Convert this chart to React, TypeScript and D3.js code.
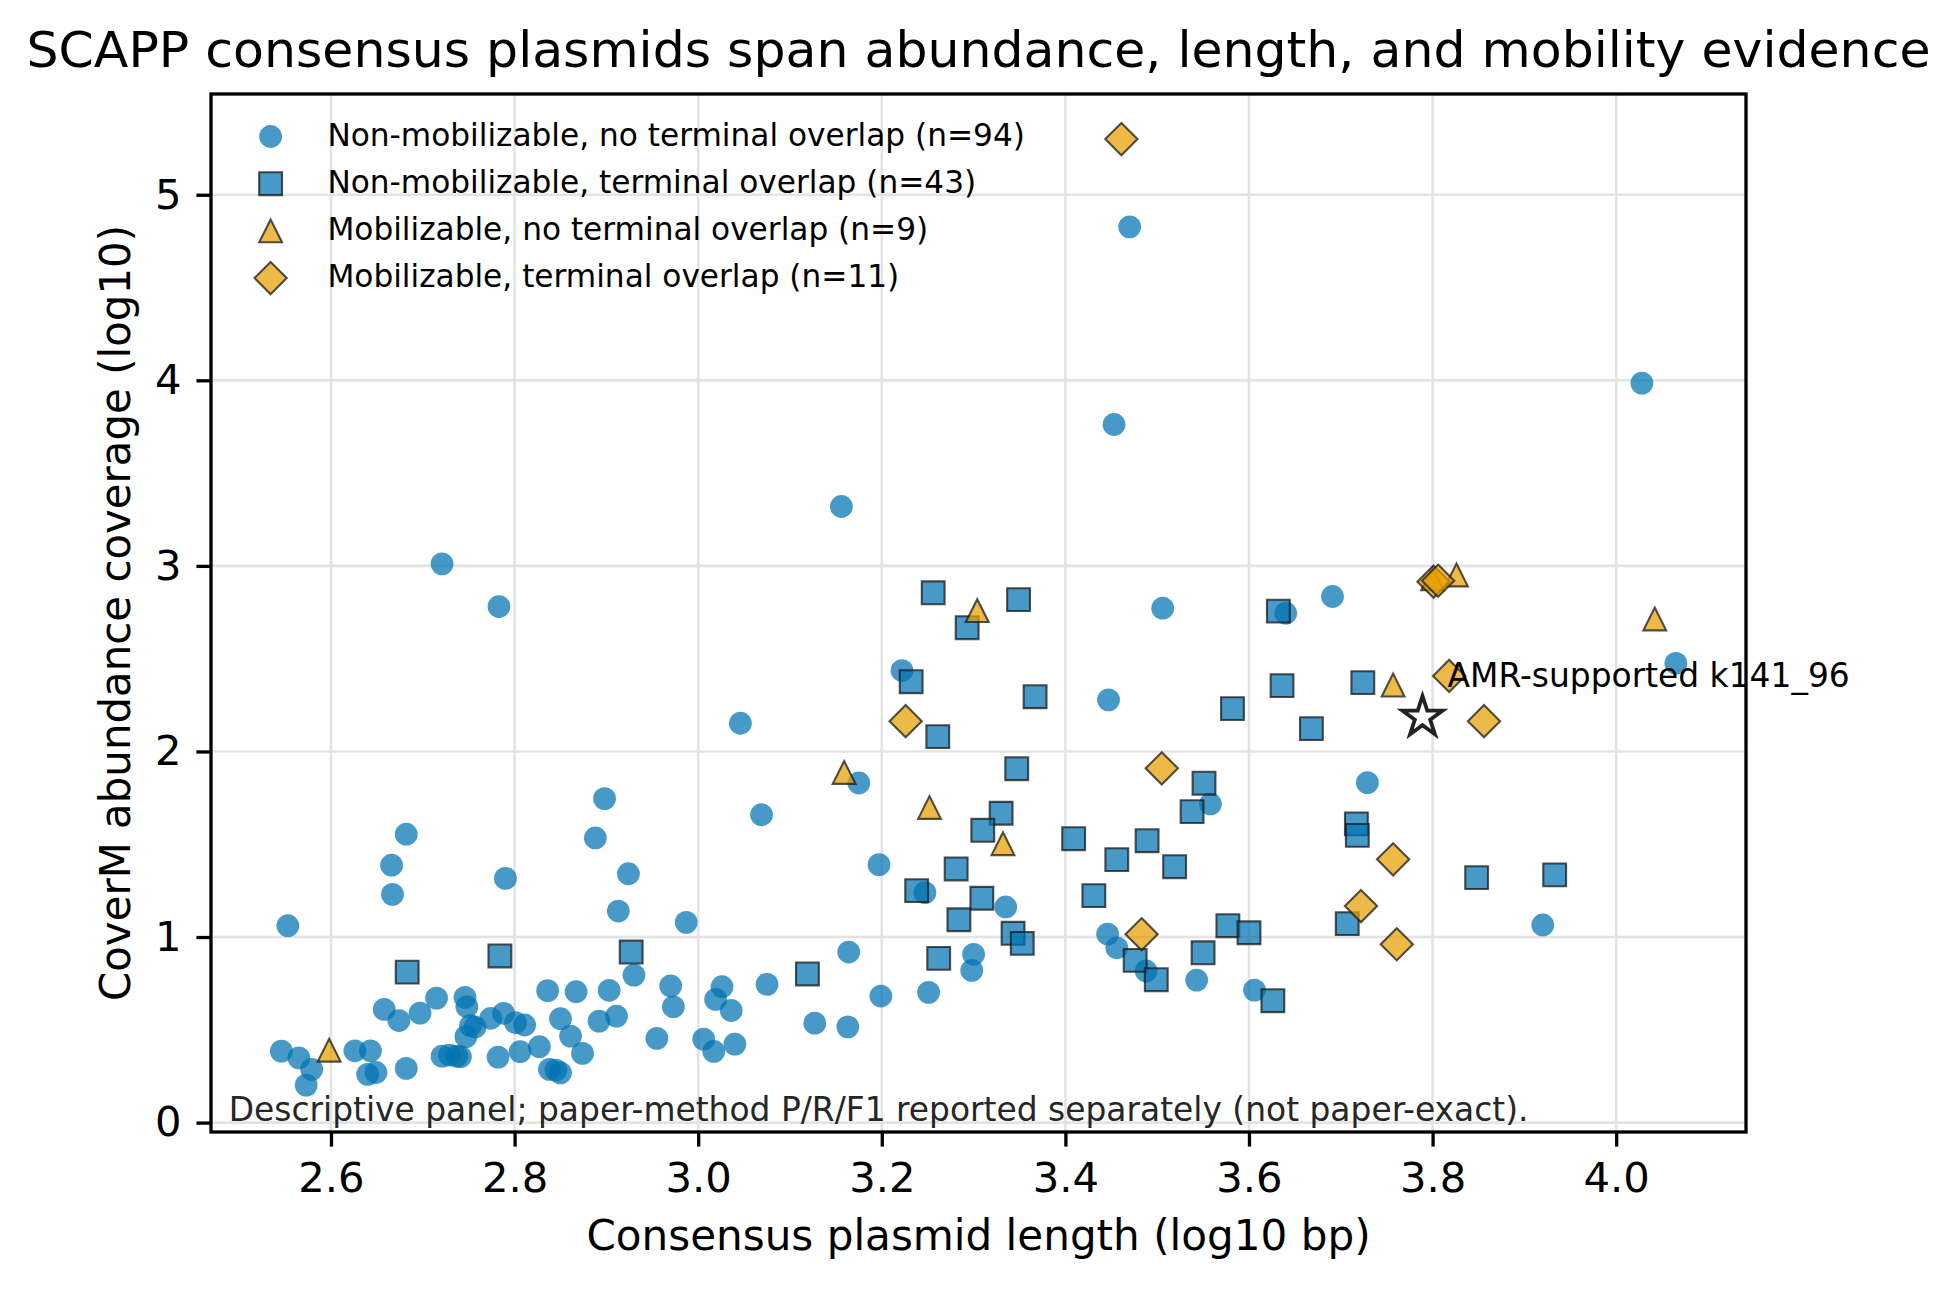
import { useEffect, useRef } from "react";
import * as d3 from "d3";

const width = 1957;
const height = 1292;
const plot = { left: 211, right: 1746, top: 94, bottom: 1132 };
const font = "'DejaVu Sans', sans-serif";

// axis ranges and ticks
const xDomain = [2.4693, 4.1414];
const yDomain = [-0.0507, 5.543];
const xTicks = [2.6, 2.8, 3.0, 3.2, 3.4, 3.6, 3.8, 4.0];
const yTicks = [0, 1, 2, 3, 4, 5];

// [log10 length, log10 coverage]
const nonMobNoOverlap = [
  [2.546, 0.385], [2.565, 0.349], [2.579, 0.287], [2.573, 0.202], [2.626, 0.387],
  [2.643, 0.387], [2.64, 0.26], [2.649, 0.27], [2.658, 0.61], [2.674, 0.55],
  [2.682, 0.292], [2.697, 0.59], [2.715, 0.671], [2.721, 0.358], [2.729, 0.364],
  [2.741, 0.355], [2.746, 0.675], [2.748, 0.624], [2.752, 0.522], [2.747, 0.463],
  [2.774, 0.562], [2.788, 0.589], [2.782, 0.353], [2.801, 0.538], [2.811, 0.526],
  [2.806, 0.382], [2.827, 0.409], [2.836, 0.711], [2.85, 0.56], [2.861, 0.466],
  [2.867, 0.705], [2.838, 0.287], [2.85, 0.268], [2.874, 0.373], [2.892, 0.547],
  [2.903, 0.713], [2.911, 0.574], [2.93, 0.795], [2.955, 0.454], [2.97, 0.737],
  [2.973, 0.624], [3.006, 0.45], [3.017, 0.384], [3.026, 0.732], [3.019, 0.664],
  [3.036, 0.604], [3.04, 0.423], [2.737, 0.358], [2.757, 0.515], [2.845, 0.283],
  [2.553, 1.061], [2.682, 1.554], [2.666, 1.387], [2.667, 1.23], [2.898, 1.746],
  [2.888, 1.534], [2.79, 1.316], [2.924, 1.341], [2.913, 1.14], [2.987, 1.079],
  [3.069, 1.659], [3.175, 1.83], [3.197, 1.39], [2.721, 3.011], [2.783, 2.781],
  [3.156, 3.32], [3.046, 2.152], [3.222, 2.436],
  [3.075, 0.745], [3.164, 0.919], [3.199, 0.682], [3.127, 0.536], [3.163, 0.516],
  [3.251, 0.702], [3.3, 0.907], [3.298, 0.82], [3.247, 1.239], [3.335, 1.162],
  [3.446, 1.016], [3.456, 0.942], [3.488, 0.817], [3.543, 0.768], [3.606, 0.714],
  [3.506, 2.772], [3.64, 2.745], [3.691, 2.835], [3.447, 2.278], [3.729, 1.832],
  [3.558, 1.717], [3.47, 4.827], [3.453, 3.762], [4.028, 3.985], [4.065, 2.475],
  [3.92, 1.065],
];

const nonMobOverlap = [
  [2.683, 0.811], [2.784, 0.898], [2.927, 0.919], [3.119, 0.801], [3.256, 2.855],
  [3.293, 2.667], [3.349, 2.818], [3.232, 2.376], [3.367, 2.295], [3.261, 2.08],
  [3.347, 1.907], [3.632, 2.756], [3.636, 2.355], [3.724, 2.371], [3.582, 2.231],
  [3.668, 2.123], [3.33, 1.667], [3.31, 1.575], [3.281, 1.367], [3.238, 1.25],
  [3.309, 1.209], [3.284, 1.093], [3.343, 1.02], [3.353, 0.966], [3.262, 0.885],
  [3.409, 1.53], [3.456, 1.417], [3.489, 1.519], [3.519, 1.379], [3.431, 1.223],
  [3.551, 1.829], [3.538, 1.676], [3.577, 1.061], [3.6, 1.023], [3.717, 1.61],
  [3.718, 1.548], [3.707, 1.072], [3.55, 0.915], [3.476, 0.874], [3.499, 0.77],
  [3.626, 0.657], [3.848, 1.32], [3.933, 1.335],
];

const mobNoOverlap = [
  [2.598, 0.39], [3.304, 2.759], [3.159, 1.887], [3.252, 1.698], [3.332, 1.503],
  [3.757, 2.358], [3.826, 2.951], [4.042, 2.714], [3.8, 2.93],
];

const mobOverlap = [
  [3.461, 5.3], [3.226, 2.163], [3.505, 1.909], [3.483, 1.015], [3.722, 1.167],
  [3.757, 1.419], [3.761, 0.961], [3.801, 2.915], [3.818, 2.407], [3.856, 2.163],
  [3.806, 2.92],
];

const amrPoint = [3.789, 2.185];
const amrLabel = "AMR-supported k141_96";

const legendLabels = [
  "Non-mobilizable, no terminal overlap (n=94)",
  "Non-mobilizable, terminal overlap (n=43)",
  "Mobilizable, no terminal overlap (n=9)",
  "Mobilizable, terminal overlap (n=11)",
];

const blue = "#0072B2";
const orange = "#E69F00";
const markerSize = 520;

const triangleUp = {
  draw(ctx: any, size: number) {
    const h = Math.sqrt(size) / 2;
    ctx.moveTo(0, -h);
    ctx.lineTo(h, h);
    ctx.lineTo(-h, h);
    ctx.closePath();
  },
};

const diamond = {
  draw(ctx: any, size: number) {
    const r = Math.sqrt(size) / Math.SQRT2;
    ctx.moveTo(0, -r);
    ctx.lineTo(r, 0);
    ctx.lineTo(0, r);
    ctx.lineTo(-r, 0);
    ctx.closePath();
  },
};

const groups = [
  { data: nonMobNoOverlap, type: d3.symbolCircle, size: 408, color: blue, edge: false },
  { data: nonMobOverlap, type: d3.symbolSquare, size: markerSize, color: blue, edge: true },
  { data: mobNoOverlap, type: triangleUp, size: markerSize, color: orange, edge: true },
  { data: mobOverlap, type: diamond, size: markerSize, color: orange, edge: true },
];

function App() {
  const d3Node = useRef<SVGSVGElement | null>(null);

  useEffect(() => {
    const svg = d3.select(d3Node.current);
    svg.selectAll("*").remove();

    const x = d3.scaleLinear().domain(xDomain).range([plot.left, plot.right]);
    const y = d3.scaleLinear().domain(yDomain).range([plot.bottom, plot.top]);

    svg.append("rect").attr("width", width).attr("height", height).attr("fill", "#fff");

    // grid
    const grid = svg.append("g").attr("stroke", "#e3e3e3").attr("stroke-width", 2.6);
    grid.selectAll(".gx").data(xTicks).enter().append("line")
      .attr("x1", (d) => x(d)).attr("x2", (d) => x(d))
      .attr("y1", plot.top).attr("y2", plot.bottom);
    grid.selectAll(".gy").data(yTicks).enter().append("line")
      .attr("x1", plot.left).attr("x2", plot.right)
      .attr("y1", (d) => y(d)).attr("y2", (d) => y(d));

    // markers
    groups.forEach((grp) => {
      const sym = d3.symbol().type(grp.type as any).size(grp.size);
      svg.append("g").selectAll("path").data(grp.data).enter().append("path")
        .attr("transform", (d) => `translate(${x(d[0])},${y(d[1])})`)
        .attr("d", sym() as string)
        .attr("fill", grp.color)
        .attr("fill-opacity", 0.72)
        .attr("stroke", grp.edge ? "#1a1a1a" : "none")
        .attr("stroke-opacity", 0.75)
        .attr("stroke-width", 2.1);
    });

    // highlighted plasmid
    svg.append("path")
      .attr("transform", `translate(${x(amrPoint[0])},${y(amrPoint[1])})`)
      .attr("d", d3.symbol().type(d3.symbolStar).size(500)() as string)
      .attr("fill", "#fff")
      .attr("stroke", "#222")
      .attr("stroke-width", 3.8)
      .attr("stroke-linejoin", "miter");

    svg.append("text")
      .attr("x", 1447.5).attr("y", 687)
      .attr("font-family", font).attr("font-size", 32.9)
      .text(amrLabel);

    // axes
    const xAxis = svg.append("g")
      .attr("transform", `translate(0,${plot.bottom})`)
      .call(d3.axisBottom(x).tickValues(xTicks).tickFormat(d3.format(".1f")).tickSize(14.6).tickPadding(16).tickSizeOuter(0));
    const yAxis = svg.append("g")
      .attr("transform", `translate(${plot.left},0)`)
      .call(d3.axisLeft(y).tickValues(yTicks).tickFormat(d3.format("d")).tickSize(14.6).tickPadding(15).tickSizeOuter(0));
    [xAxis, yAxis].forEach((a) => {
      a.select(".domain").remove();
      a.selectAll("line").attr("stroke", "#000").attr("stroke-width", 3.3);
      a.selectAll("text").attr("font-family", font).attr("font-size", 41.7).attr("fill", "#000");
    });

    // spines
    svg.append("rect")
      .attr("x", plot.left).attr("y", plot.top)
      .attr("width", plot.right - plot.left).attr("height", plot.bottom - plot.top)
      .attr("fill", "none").attr("stroke", "#000").attr("stroke-width", 3.3);

    // footnote
    svg.append("text")
      .attr("x", 228.7).attr("y", 1120.5)
      .attr("font-family", font).attr("font-size", 32.9).attr("fill", "#262626")
      .text("Descriptive panel; paper-method P/R/F1 reported separately (not paper-exact).");

    // legend
    const legend = svg.append("g");
    groups.forEach((grp, i) => {
      const ly = 136.5 + i * 47.2;
      legend.append("path")
        .attr("transform", `translate(270.6,${ly})`)
        .attr("d", d3.symbol().type(grp.type as any).size(grp.size)() as string)
        .attr("fill", grp.color)
        .attr("fill-opacity", 0.72)
        .attr("stroke", grp.edge ? "#1a1a1a" : "none")
        .attr("stroke-opacity", 0.75)
        .attr("stroke-width", 2.1);
      legend.append("text")
        .attr("x", 327.4).attr("y", ly + 9)
        .attr("font-family", font).attr("font-size", 31.2)
        .text(legendLabels[i]);
    });

    // titles
    svg.append("text")
      .attr("x", (plot.left + plot.right) / 2).attr("y", 67)
      .attr("text-anchor", "middle")
      .attr("font-family", font).attr("font-size", 50.5)
      .text("SCAPP consensus plasmids span abundance, length, and mobility evidence");
    svg.append("text")
      .attr("x", (plot.left + plot.right) / 2).attr("y", 1250)
      .attr("text-anchor", "middle")
      .attr("font-family", font).attr("font-size", 42.1)
      .text("Consensus plasmid length (log10 bp)");
    svg.append("text")
      .attr("transform", `translate(130,${(plot.top + plot.bottom) / 2}) rotate(-90)`)
      .attr("text-anchor", "middle")
      .attr("font-family", font).attr("font-size", 41.9)
      .text("CoverM abundance coverage (log10)");
  }, []);

  return (
    <svg
      ref={d3Node}
      width={width}
      height={height}
      style={{ position: "absolute", left: 0, top: 0, display: "block" }}
    />
  );
}

export default App;
